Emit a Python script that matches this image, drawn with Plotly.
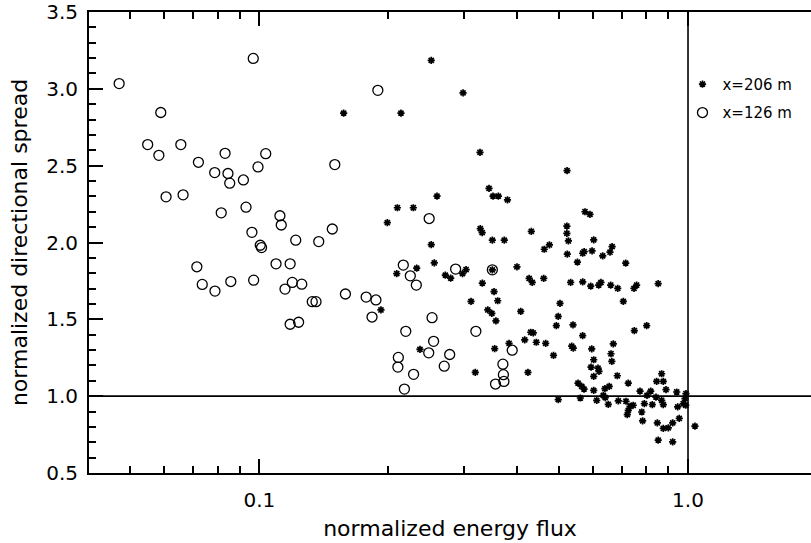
import plotly.graph_objects as go

# x=126 m (open circles)
circ_flux = [0.0471, 0.0968, 0.0589, 0.0549, 0.0656, 0.0583, 0.0832, 0.1035, 0.0721, 0.0993,
             0.150, 0.0787, 0.0845, 0.0853, 0.0918, 0.0606, 0.0664, 0.0815, 0.0931, 0.1117,
             0.1125, 0.1216, 0.1376, 0.148, 0.0961, 0.1005, 0.1012, 0.189,
             0.0715, 0.0736, 0.0788, 0.0858, 0.097, 0.1094, 0.118, 0.1148, 0.1194, 0.1256,
             0.118, 0.1235, 0.1329, 0.1356, 0.1588, 0.1775, 0.1871, 0.1832,
             0.249, 0.2167, 0.225, 0.2324, 0.2529, 0.2196, 0.255, 0.2484, 0.278, 0.211,
             0.2105, 0.27, 0.229, 0.218, 0.287, 0.3496, 0.32, 0.389, 0.37, 0.371, 0.372, 0.3556]
circ_spread = [3.034, 3.198, 2.846, 2.637, 2.637, 2.567, 2.580, 2.578, 2.522, 2.492,
               2.507, 2.455, 2.449, 2.386, 2.407, 2.297, 2.310, 2.193, 2.230, 2.174,
               2.114, 2.015, 2.006, 2.088, 2.066, 1.982, 1.967, 2.990,
               1.842, 1.727, 1.684, 1.746, 1.755, 1.861, 1.861, 1.697, 1.740, 1.729,
               1.468, 1.481, 1.615, 1.615, 1.665, 1.645, 1.626, 1.515,
               2.156, 1.853, 1.783, 1.723, 1.511, 1.422, 1.357, 1.282, 1.271, 1.252,
               1.189, 1.195, 1.142, 1.046, 1.827, 1.822, 1.422, 1.299, 1.208, 1.140, 1.096, 1.079]

# x=206 m (asterisks)
star_flux = [0.2518, 0.2987, 0.1573, 0.214, 0.3272, 0.3434, 0.3509, 0.3611, 0.3792, 0.2597,
             0.2099, 0.2287, 0.1989, 0.3277, 0.331, 0.431, 0.2518, 0.3496, 0.3728, 0.462, 0.475,
             0.2559, 0.2329, 0.2092, 0.2716, 0.2795, 0.2979, 0.3036, 0.3496, 0.399, 0.426,
             0.4332, 0.4607, 0.3313, 0.3528, 0.3598, 0.3118, 0.3411, 0.3487, 0.3564, 0.4072,
             0.1922, 0.4297, 0.4355, 0.4656, 0.4427, 0.416, 0.3824, 0.354, 0.237, 0.319,
             0.4233, 0.4856,
             0.4981, 0.493, 0.5392, 0.5679, 0.5355, 0.54, 0.5962, 0.6695, 0.6612, 0.6642,
             0.5028, 0.7065, 0.7495, 0.8009,
             0.6026, 0.594, 0.6166, 0.62, 0.6026, 0.684, 0.7255, 0.5539, 0.565, 0.5721,
             0.6026, 0.640, 0.655, 0.6345, 0.641, 0.6124, 0.5608, 0.4981, 0.6517, 0.6878,
             0.7167, 0.7325, 0.745, 0.7255, 0.7218, 0.7727, 0.8186, 0.8024, 0.842, 0.791,
             0.8255, 0.868, 0.8757, 0.8886, 0.941, 0.845, 0.8757, 0.868, 0.78, 0.7837,
             0.848, 0.8757, 0.8995, 0.921, 0.954, 0.946, 0.975, 0.988, 0.989, 0.984,
             1.038, 0.852, 0.921,
             0.5222, 0.575, 0.5906, 0.5217, 0.5217, 0.526, 0.6026, 0.5229, 0.568, 0.5725,
             0.5973, 0.6324, 0.6577, 0.6652, 0.5521, 0.7156, 0.5324, 0.568, 0.593, 0.619,
             0.6265, 0.6602, 0.6856, 0.7482, 0.7587, 0.852]
star_spread = [3.185, 2.974, 2.842, 2.842, 2.587, 2.352, 2.302, 2.302, 2.278, 2.302,
               2.226, 2.226, 2.129, 2.090, 2.064, 2.073, 1.986, 2.015, 2.015, 1.956, 1.984,
               1.867, 1.833, 1.798, 1.788, 1.768, 1.798, 1.824, 1.822, 1.842, 1.766,
               1.740, 1.766, 1.736, 1.680, 1.621, 1.617, 1.561, 1.539, 1.490, 1.552,
               1.561, 1.416, 1.412, 1.344, 1.351, 1.366, 1.344, 1.310, 1.304, 1.155,
               1.155, 1.265,
               1.519, 1.459, 1.464, 1.394, 1.325, 1.312, 1.308, 1.340, 1.276, 1.226,
               1.604, 1.617, 1.427, 1.459,
               1.237, 1.189, 1.182, 1.161, 1.129, 1.133, 1.085, 1.085, 1.064, 1.046,
               1.038, 1.049, 1.064, 1.005, 0.991, 0.973, 0.988, 0.978, 0.947, 0.969,
               0.967, 0.934, 0.941, 0.908, 0.880, 1.033, 1.033, 1.005, 0.994, 0.952,
               0.945, 0.973, 0.945, 1.042, 1.027, 1.096, 1.096, 1.146, 0.897, 0.839,
               0.826, 0.790, 0.794, 0.826, 0.855, 0.930, 0.952, 0.941, 1.017, 0.984,
               0.805, 0.714, 0.703,
               2.468, 2.200, 2.183, 2.107, 2.060, 2.010, 2.017, 1.924, 1.930, 1.941,
               1.945, 1.913, 1.937, 1.973, 1.872, 1.866, 1.740, 1.744, 1.716, 1.723,
               1.740, 1.723, 1.701, 1.701, 1.723, 1.733]

x_major = [0.1, 1.0]
x_major_text = ["0.1", "1.0"]
x_minor = [0.05, 0.06, 0.07, 0.08, 0.09, 0.2, 0.3, 0.4, 0.5, 0.6, 0.7, 0.8, 0.9]
y_major = [0.5, 1.0, 1.5, 2.0, 2.5, 3.0, 3.5]
y_major_text = ["0.5", "1.0", "1.5", "2.0", "2.5", "3.0", "3.5"]

FONT = "DejaVu Sans"

fig = go.Figure()
fig.add_trace(go.Scatter(
    x=star_flux, y=star_spread, mode="markers", name="x=206 m",
    legendgroup="a",
    marker=dict(symbol="asterisk-open", size=6, color="black",
                line=dict(color="black", width=1.7)),
))
fig.add_trace(go.Scatter(
    x=circ_flux, y=circ_spread, mode="markers", name="x=126 m",
    legendgroup="b",
    marker=dict(symbol="circle-open", size=10, color="black",
                line=dict(color="black", width=1.3)),
))

# reference lines
fig.add_shape(type="line", xref="paper", x0=0, x1=1, yref="y", y0=1.0, y1=1.0,
              line=dict(color="black", width=1.6))
fig.add_shape(type="line", xref="x", x0=1.0, x1=1.0, yref="paper", y0=0, y1=1,
              line=dict(color="black", width=1.6))

fig.update_layout(
    width=811, height=543,
    margin=dict(l=89, r=0, t=10, b=70),
    paper_bgcolor="white", plot_bgcolor="white",
    font=dict(family=FONT, color="black"),
    showlegend=True,
    legend=dict(x=0.822, y=0.879, xanchor="left", yanchor="top",
                bgcolor="rgba(0,0,0,0)", font=dict(size=15, family=FONT),
                tracegroupgap=6, traceorder="grouped"),
    xaxis=dict(
        type="log", range=[-1.3973, 0.2869],
        tickmode="array", tickvals=x_major, ticktext=x_major_text,
        ticks="inside", ticklen=14, tickwidth=1.5, tickcolor="black",
        showline=True, linewidth=2, linecolor="black", mirror="ticks",
        showgrid=False, zeroline=False,
        tickfont=dict(size=20, family=FONT),
        ticklabelstandoff=8,
        minor=dict(tickmode="array", tickvals=x_minor, ticks="inside",
                   ticklen=7, tickwidth=1.5, tickcolor="black", showgrid=False),
        title=dict(text="normalized energy flux", font=dict(size=22, family=FONT),
                   standoff=10),
    ),
    yaxis=dict(
        range=[0.5, 3.5],
        tickmode="array", tickvals=y_major, ticktext=y_major_text,
        ticks="inside", ticklen=14, tickwidth=1.5, tickcolor="black",
        showline=True, linewidth=2, linecolor="black", mirror=False,
        showgrid=False, zeroline=False,
        tickfont=dict(size=20, family=FONT),
        ticklabelstandoff=5, ticklabeloverflow="allow",
        minor=dict(dtick=0.1, ticks="inside", ticklen=7, tickwidth=1.5,
                   tickcolor="black", showgrid=False),
        title=dict(text="normalized directional spread", font=dict(size=22, family=FONT),
                   standoff=12),
    ),
    yaxis2=dict(
        overlaying="y", side="right", range=[0.5, 3.5],
        tickmode="array", tickvals=y_major, showticklabels=False,
        ticks="inside", ticklen=8, tickwidth=1.5, tickcolor="black",
        showline=False, showgrid=False, zeroline=False,
        minor=dict(dtick=0.1, ticks="inside", ticklen=3, tickwidth=1.5,
                   tickcolor="black", showgrid=False),
    ),
)

fig.write_html("out.html")
